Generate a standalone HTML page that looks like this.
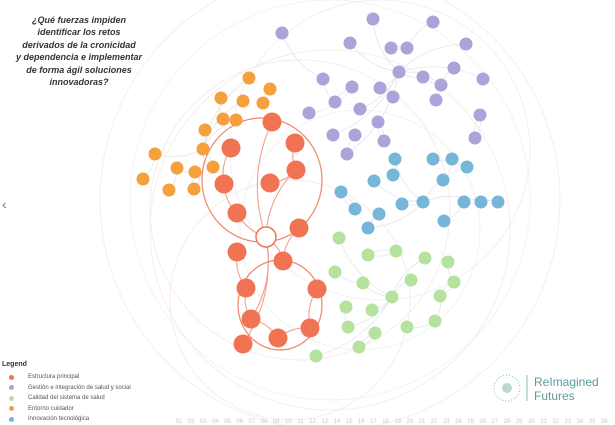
<!DOCTYPE html>
<html><head><meta charset="utf-8">
<style>
html,body{margin:0;padding:0;background:#fff;}
body{width:615px;height:425px;overflow:hidden;position:relative;font-family:"Liberation Sans",sans-serif;}
#title{position:absolute;left:12px;top:14px;width:134px;text-align:center;font-size:9px;font-weight:bold;font-style:italic;line-height:12.4px;color:#333;}
#legend{position:absolute;left:2px;top:361px;font-size:6px;color:#555;}
#legend .h{font-size:7px;font-weight:bold;color:#333;margin-bottom:4px}
#legend .e{height:10.5px;display:flex;align-items:center}
#legend .d{width:5px;height:5px;border-radius:50%;margin:0 14px 0 7px}
#arrow{position:absolute;left:2px;top:196px;font-size:14px;color:#777}
#logo{position:absolute;left:490px;top:370px;width:120px;height:36px}
</style></head><body>
<svg id="chart" width="615" height="425" style="position:absolute;left:0;top:0"></svg>
<div id="title">¿Qué fuerzas impiden<br>identificar los retos<br>derivados de la cronicidad<br>y dependencia e implementar<br>de forma ágil soluciones<br>innovadoras?</div>
<div id="arrow">&#8249;</div>
<div id="legend">
<div class="h">Legend</div>
<div class="e"><span class="d" style="background:#f07454"></span>Estructura principal</div>
<div class="e"><span class="d" style="background:#a9a5d8"></span>Gestión e integración de salud y social</div>
<div class="e"><span class="d" style="background:#b5e29e"></span>Calidad del sistema de salud</div>
<div class="e"><span class="d" style="background:#f5a03c"></span>Entorno cuidador</div>
<div class="e"><span class="d" style="background:#78b6d9"></span>Innovación tecnológica</div>
</div>
<svg id="logo" viewBox="0 0 120 36">
<circle cx="17" cy="18" r="13" fill="none" stroke="#7fb8b0" stroke-width="1" stroke-dasharray="1 2"/>
<circle cx="17" cy="18" r="5" fill="#b9d9d3"/>
<line x1="37" y1="5" x2="37" y2="31" stroke="#6aa" stroke-width="0.8"/>
<text x="44" y="16" font-size="12" fill="#5c9a9a" font-family="Liberation Sans">ReImagined</text>
<text x="44" y="30" font-size="12" fill="#5c9a9a" font-family="Liberation Sans">Futures</text>
</svg>
<script>
const groups=['red','purple','green','orange','blue'];
const colors={red:'#f07454',purple:'#a9a5d8',green:'#b5e29e',orange:'#f5a03c',blue:'#78b6d9'};
const redNodes=[[272,122],[231,148],[295,143],[296,170],[270,183],[224,184],[237,213],[299,228],[237,252],[283,261],[246,288],[317,289],[251,319],[310,328],[278,338],[243,344]];
const purpleNodes=[[373,19],[433,22],[282,33],[350,43],[391,48],[407,48],[466,44],[399,72],[423,77],[441,85],[454,68],[436,100],[483,79],[323,79],[352,87],[380,88],[393,97],[335,102],[360,109],[309,113],[378,122],[333,135],[355,135],[384,141],[347,154],[480,115],[475,138]];
const blueNodes=[[395,159],[433,159],[452,159],[467,167],[393,175],[443,180],[374,181],[341,192],[423,202],[402,204],[355,209],[379,214],[368,228],[444,221],[464,202],[481,202],[498,202]];
const greenNodes=[[339,238],[368,255],[396,251],[425,258],[448,262],[335,272],[363,283],[411,280],[454,282],[392,297],[440,296],[346,307],[372,310],[435,321],[407,327],[348,327],[375,333],[359,347],[316,356]];
const orangeNodes=[[249,78],[270,89],[221,98],[243,101],[263,103],[223,119],[236,120],[205,130],[203,149],[155,154],[177,168],[195,172],[213,167],[143,179],[169,190],[194,189]];
const hubs={red:[266,237],purple:[399,72],blue:[423,202],green:[392,297],orange:[203,149]};
const tickLabels=[];for(let i=1;i<=36;i++)tickLabels.push(String(i).padStart(2,'0'));
const NS='http://www.w3.org/2000/svg';
const svg=document.getElementById('chart');
function mk(t,a,p){const e=document.createElementNS(NS,t);for(const k in a)e.setAttribute(k,a[k]);(p||svg).appendChild(e);return e;}
const bg=mk('g',{});


const arcs=[[330,200,230,'#f0f0f3'],[330,200,200,'#f3f3f5'],[330,230,180,'#f6eeeb'],[300,210,150,'#fbeae3'],[380,150,150,'#f0f0f6'],[360,230,120,'#eef3f5'],[290,300,120,'#fbebe3']];
arcs.forEach(a=>mk('circle',{cx:a[0],cy:a[1],r:a[2],fill:'none',stroke:a[3],'stroke-width':1},bg));
const sets={red:redNodes,purple:purpleNodes,blue:blueNodes,green:greenNodes,orange:orangeNodes};
const edges=mk('g',{});


for(const g in sets){const arr=sets[g];arr.forEach((n,i)=>{
 // connect to nearest other node in group
 let best=null,bd=1e9;arr.forEach((m,j)=>{if(j!==i){const d=(m[0]-n[0])**2+(m[1]-n[1])**2;if(d<bd){bd=d;best=m;}}});
 const h=i%3===0?hubs[g]:best;
 const mx=(n[0]+h[0])/2+(n[1]-h[1])*0.2,my=(n[1]+h[1])/2-(n[0]-h[0])*0.2;
 mk('path',{d:`M${n[0]},${n[1]} Q${mx},${my} ${h[0]},${h[1]}`,fill:'none',stroke:g==='red'?'#f2a08a':'#e3e5ee','stroke-width':g==='red'?1.1:0.8},edges);});}
mk('ellipse',{cx:262,cy:180,rx:60,ry:62,fill:'none',stroke:'#f08468','stroke-width':1.2},edges);
mk('ellipse',{cx:280,cy:305,rx:42,ry:45,fill:'none',stroke:'#f08468','stroke-width':1.2},edges);
const nodes=mk('g',{});
for(const g in sets){sets[g].forEach((n,i)=>{
 const r=g==='red'?9.5:6.5;
 const c=mk('circle',{cx:n[0],cy:n[1],r:r,fill:colors[g]},nodes);
 
 
});}
const hub=mk('circle',{cx:hubs.red[0],cy:hubs.red[1],r:10,fill:'#fff',stroke:'#f07454','stroke-width':1.5},nodes);


const tx=mk('g',{});


tickLabels.forEach((t,i)=>{const e=mk('text',{x:179+i*12.15,y:423,'font-size':6,fill:'#c8c8d0','text-anchor':'middle','font-family':'Liberation Sans'},tx);e.textContent=t;});
</script>
</body></html>
